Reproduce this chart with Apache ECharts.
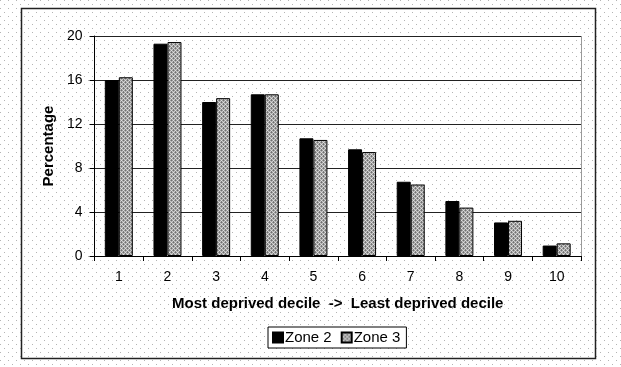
<!DOCTYPE html>
<html><head><meta charset="utf-8">
<script src="https://cdn.jsdelivr.net/npm/echarts@6/dist/echarts.min.js"></script>
<style>html,body{margin:0;padding:0;background:#fff}#c{width:621px;height:367px}</style>
</head><body><div id="c"></div>
<script>
const categories = ['1','2','3','4','5','6','7','8','9','10'];
const zone2 = [16.0, 19.3, 14.0, 14.7, 10.7, 9.7, 6.75, 5.0, 3.05, 0.95];
const zone3 = [16.25, 19.45, 14.35, 14.7, 10.55, 9.45, 6.5, 4.4, 3.2, 1.15];
const yTicks = [0, 4, 8, 12, 16, 20];

function dotPattern() {
  const c = document.createElement('canvas'); c.width = 8; c.height = 8;
  const g = c.getContext('2d');
  g.fillStyle = '#fff'; g.fillRect(0,0,8,8);
  g.fillStyle = '#b4b4b4'; g.fillRect(0,0,1,1); g.fillRect(4,4,1,1);
  return c;
}
function barPattern() {
  const c = document.createElement('canvas'); c.width = 4; c.height = 4;
  const g = c.getContext('2d');
  const cols = [
    ['#9a9a9a','#e0e0e0','#9a9a9a','#707070'],
    ['#c8c8c8','#808080','#c8c8c8','#a8a8a8'],
    ['#9a9a9a','#707070','#9a9a9a','#e0e0e0'],
    ['#c8c8c8','#a8a8a8','#c8c8c8','#808080']];
  for (let y=0;y<4;y++) for (let x=0;x<4;x++){ g.fillStyle = cols[y][x]; g.fillRect(x,y,1,1); }
  return c;
}

const font = '"Liberation Sans", Arial, sans-serif';
const chart = echarts.init(document.getElementById('c'), null, {renderer:'canvas'});
chart.setOption({
  animation: false,
  backgroundColor: '#fff',
  grid: { left: 94.5, right: 40, top: 36, bottom: 111, containLabel: false },
  legend: {
    data: ['Zone 2', 'Zone 3'],
    top: 327, left: 268,
    itemWidth: 10, itemHeight: 10, itemGap: 9,
    padding: [3, 6, 3, 4],
    borderColor: '#000', borderWidth: 1, backgroundColor: '#fff',
    textStyle: { fontFamily: font, fontSize: 15, color: '#000', padding: [0,0,0,-3] },
    icon: 'rect'
  },
  xAxis: {
    type: 'category', data: categories,
    name: 'Most deprived decile  ->  Least deprived decile',
    nameLocation: 'middle', nameGap: 40,
    nameTextStyle: { fontFamily: font, fontSize: 15, fontWeight: 'bold', color: '#000' },
    axisLine: { lineStyle: { color: '#000', width: 1 } },
    axisTick: { show: true, length: 5, lineStyle: { color: '#000' } },
    axisLabel: { fontFamily: font, fontSize: 14, color: '#000', margin: 14 },
    splitLine: { show: false }
  },
  yAxis: {
    type: 'value', min: yTicks[0], max: yTicks[yTicks.length-1], interval: 4,
    name: 'Percentage', nameLocation: 'middle', nameGap: 37,
    nameTextStyle: { fontFamily: font, fontSize: 15, fontWeight: 'bold', color: '#000' },
    axisLine: { show: true, lineStyle: { color: '#000', width: 1 } },
    axisTick: { show: true, length: 5, lineStyle: { color: '#000' } },
    axisLabel: { fontFamily: font, fontSize: 14, color: '#000', margin: 12 },
    splitLine: { show: true, lineStyle: { color: '#222', width: 1 } }
  },
  series: [
    { name: 'Zone 2', type: 'bar', data: zone2, barWidth: 14, barGap: '0%',
      itemStyle: { color: '#000', borderColor: '#000', borderWidth: 1 } },
    { name: 'Zone 3', type: 'bar', data: zone3, barWidth: 14, barGap: '0%',
      itemStyle: { color: { image: barPattern(), repeat: 'repeat' }, borderColor: '#000', borderWidth: 1 } }
  ],
  graphic: [
    { type: 'rect', z: -10, silent: true, shape: { x: 0, y: 0, width: 621, height: 367 },
      style: { fill: { image: dotPattern(), repeat: 'repeat' } } },
    { type: 'rect', z: 100, silent: true, shape: { x: 21.5, y: 8.5, width: 574, height: 350 },
      style: { fill: null, stroke: '#222', lineWidth: 1.5 } },
    { type: 'line', z: 100, silent: true, shape: { x1: 581.5, y1: 36, x2: 581.5, y2: 256 },
      style: { stroke: '#999', lineWidth: 1 } }
  ]
});
</script></body></html>
